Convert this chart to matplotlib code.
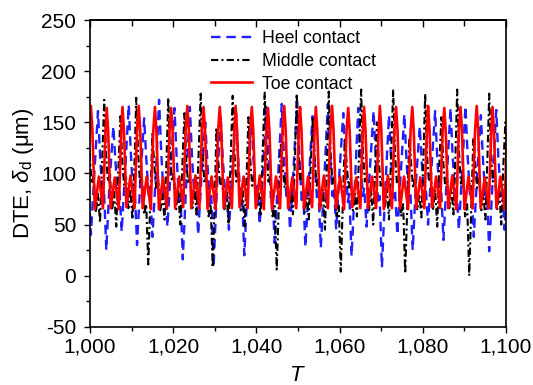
import matplotlib
matplotlib.use("Agg")
import matplotlib.pyplot as plt
from matplotlib.ticker import MultipleLocator, FuncFormatter

plt.rcParams['font.family'] = ['Liberation Sans', 'DejaVu Sans']
plt.rcParams['mathtext.fontset'] = 'custom'
plt.rcParams['mathtext.it'] = 'Liberation Sans:italic'
plt.rcParams['mathtext.rm'] = 'Liberation Sans'
plt.rcParams['axes.unicode_minus'] = False

# ---- data (one row = one mesh cycle) ----
# heel contact: peak, flank, shoulder, bump, trough, rise
heel_t0 = [998.2, 1001.9, 1005.6, 1009.3, 1013.0, 1016.6, 1020.3, 1024.0, 1027.7,
           1031.4, 1035.1, 1038.8, 1042.4, 1046.1, 1049.8, 1053.5, 1057.2, 1060.9,
           1064.5, 1068.2, 1071.9, 1075.6, 1079.3, 1083.0, 1086.7, 1090.3, 1094.0, 1097.7]
heel_dt = [0, 0.5, 1.1, 1.45, 2.0, 2.8]
heel_rows = [
    [150, 120, 80, 88, 40, 98], [161, 118, 76, 84, 25, 92], [146, 112, 78, 86, 43, 100],
    [167, 120, 76, 85, 30, 94], [154, 116, 78, 86, 38, 98], [172, 122, 78, 86, 48, 104],
    [164, 118, 72, 80, 16, 88], [165, 118, 76, 85, 40, 98], [150, 112, 70, 78, 8, 84],
    [158, 116, 78, 86, 45, 102], [160, 116, 72, 80, 20, 90], [155, 114, 78, 88, 50, 104],
    [165, 118, 76, 84, 32, 95], [168, 120, 78, 86, 45, 102], [170, 120, 74, 82, 28, 92],
    [156, 114, 74, 82, 27, 92], [168, 120, 78, 86, 45, 102], [159, 116, 72, 80, 19, 90],
    [164, 118, 78, 86, 48, 104], [161, 116, 70, 78, 8, 84], [157, 114, 76, 84, 40, 98],
    [158, 114, 74, 82, 25, 92], [146, 110, 78, 86, 50, 104], [161, 116, 76, 84, 35, 96],
    [164, 118, 78, 86, 45, 102], [166, 118, 76, 84, 38, 98], [157, 114, 74, 82, 24, 92],
    [162, 116, 78, 86, 45, 100],
]

# middle contact: peak, flank, shoulder, bump, trough1, bump2, trough2, rise
mid_t0 = [999.5, 1003.4, 1007.3, 1011.1, 1015.0, 1018.8, 1022.7, 1026.6, 1030.4,
          1034.3, 1038.1, 1042.0, 1045.9, 1049.7, 1053.6, 1057.4, 1061.3, 1065.2,
          1069.0, 1072.9, 1076.8, 1080.6, 1084.5, 1088.3, 1092.2, 1096.0, 1099.9]
mid_dt = [0, 0.45, 0.9, 1.35, 1.9, 2.4, 2.9, 3.4]
mid_rows = [
    [150, 115, 90, 98, 62, 80, 52, 112], [172, 118, 92, 100, 64, 82, 48, 104],
    [156, 112, 88, 96, 66, 85, 55, 112], [174, 120, 90, 98, 60, 70, 11, 75],
    [140, 108, 86, 95, 64, 80, 55, 115], [174, 118, 92, 100, 65, 84, 50, 108],
    [159, 112, 90, 97, 66, 86, 60, 118], [178, 120, 90, 98, 58, 70, 8, 76],
    [145, 110, 88, 95, 65, 82, 52, 112], [176, 118, 92, 100, 64, 84, 48, 104],
    [155, 112, 88, 98, 66, 85, 58, 118], [179, 120, 92, 97, 58, 68, 6, 70],
    [130, 106, 86, 96, 64, 82, 60, 118], [178, 118, 92, 100, 61, 84, 55, 112],
    [155, 112, 88, 96, 66, 84, 45, 112], [180, 120, 90, 98, 58, 70, 4, 72],
    [135, 108, 86, 95, 64, 80, 58, 120], [182, 120, 92, 100, 64, 84, 50, 108],
    [150, 112, 88, 97, 66, 85, 55, 116], [182, 120, 90, 98, 58, 70, 2, 70],
    [135, 108, 86, 95, 64, 80, 57, 118], [178, 118, 92, 100, 64, 84, 48, 108],
    [155, 112, 88, 96, 66, 86, 60, 120], [182, 120, 90, 98, 58, 70, 0, 68],
    [135, 108, 86, 95, 64, 80, 55, 118], [178, 118, 92, 100, 64, 84, 50, 108],
    [150, 112, 88, 96, 66, 85, 55, 115],
]

# toe contact: peak, flank, trough1, bump, trough2, rise
toe_t0 = [996.3, 1000.2, 1004.0, 1007.8, 1011.7, 1015.6, 1019.5, 1023.4, 1027.3,
          1031.2, 1035.0, 1038.9, 1042.8, 1046.7, 1050.5, 1054.3, 1058.2, 1062.1,
          1065.9, 1069.7, 1073.6, 1077.5, 1081.3, 1085.2, 1089.1, 1093.0, 1096.8, 1100.6]
toe_dt = [0, 0.35, 0.95, 1.93, 2.9, 3.5]
toe_rows = [
    [165, 142, 66, 97, 66, 142], [166, 143, 65, 97, 66, 141], [164, 142, 66, 96, 65, 142],
    [165, 142, 67, 98, 66, 143], [166, 143, 66, 97, 65, 142], [165, 142, 65, 96, 66, 142],
    [164, 141, 66, 97, 67, 143], [166, 143, 66, 98, 66, 142], [165, 142, 65, 97, 65, 142],
    [165, 142, 66, 96, 66, 143], [166, 143, 67, 97, 66, 142], [165, 142, 66, 98, 65, 141],
    [164, 141, 65, 97, 66, 142], [166, 143, 66, 96, 66, 143], [165, 142, 66, 97, 67, 142],
    [165, 142, 65, 98, 66, 142], [166, 143, 66, 97, 65, 143], [164, 141, 67, 96, 66, 142],
    [165, 142, 66, 97, 66, 142], [166, 143, 65, 98, 66, 143], [165, 142, 66, 97, 65, 142],
    [165, 142, 66, 96, 66, 141], [166, 143, 67, 97, 66, 142], [164, 141, 66, 98, 65, 143],
    [165, 142, 65, 97, 66, 142], [166, 143, 66, 96, 66, 142], [165, 142, 66, 97, 65, 143],
    [165, 142, 66, 97, 66, 142],
]


def trace(t0, dt, rows):
    t = [a + d for a in t0 for d in dt]
    v = [x for r in rows for x in r]
    return t, v


fig = plt.figure(figsize=(5.33, 3.85), dpi=100)
ax = fig.add_axes([0.169, 0.151, 0.780, 0.797])

t, v = trace(heel_t0, heel_dt, heel_rows)
ax.plot(t, v, color='#1f1fff', lw=1.7, ls=(0, (4, 2.5)), label='Heel contact')
t, v = trace(mid_t0, mid_dt, mid_rows)
ax.plot(t, v, color='black', lw=1.5, ls=(0, (3.5, 1.5, 1, 1.5)), label='Middle contact')
t, v = trace(toe_t0, toe_dt, toe_rows)
ax.plot(t, v, color='#ff0000', lw=1.9, label='Toe contact')

ax.set_xlim(1000, 1100)
ax.set_ylim(-50, 250)
ax.xaxis.set_major_locator(MultipleLocator(20))
ax.xaxis.set_minor_locator(MultipleLocator(10))
ax.yaxis.set_major_locator(MultipleLocator(50))
ax.yaxis.set_minor_locator(MultipleLocator(25))
ax.xaxis.set_major_formatter(FuncFormatter(lambda x, p: f'{x:,.0f}'))

ax.tick_params(which='both', direction='out', top=False, right=False,
               labelsize=15, width=1)
ax.tick_params(which='major', length=4)
ax.tick_params(which='minor', length=3)
ax.tick_params(axis='x', pad=4)
ax.tick_params(axis='y', pad=6)
# top axis ticks point inward
sec = ax.secondary_xaxis('top')
sec.xaxis.set_major_locator(MultipleLocator(20))
sec.xaxis.set_minor_locator(MultipleLocator(10))
sec.tick_params(which='both', direction='in', labeltop=False, width=1)
sec.tick_params(which='major', length=5)
sec.tick_params(which='minor', length=4)
sec.spines['top'].set_linewidth(1.2)

for s in ax.spines.values():
    s.set_linewidth(1.2)

ax.set_xlabel('$T$', fontsize=16, labelpad=6)
ax.set_ylabel(r'DTE, $\delta_{\rm d}$ (μm)', fontsize=16, labelpad=4)

ax.legend(loc='upper center', bbox_to_anchor=(0.49, 0.995), frameon=False,
          fontsize=12.7, handlelength=2.3, handletextpad=0.6, labelspacing=0.32,
          borderaxespad=0.1)

fig.savefig('out.png', dpi=100)
